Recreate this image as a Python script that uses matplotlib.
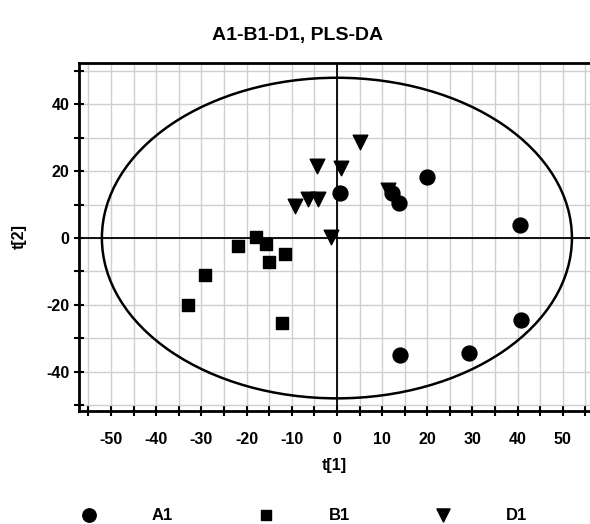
import numpy as np
import matplotlib.pyplot as plt
from matplotlib.patches import Ellipse
from matplotlib.ticker import MultipleLocator

plt.rcParams['font.family'] = ['Liberation Sans', 'DejaVu Sans']
plt.rcParams['axes.unicode_minus'] = False

# scores t[1], t[2] per class
a1_t1 = [0.6, 12.1, 13.8, 19.9, 40.5, 40.8, 14.0, 29.2]
a1_t2 = [13.5, 13.6, 10.5, 18.3, 4.0, -24.5, -35.0, -34.4]
b1_t1 = [-17.8, -15.7, -21.9, -15.1, -11.5, -29.1, -32.9, -12.2]
b1_t2 = [0.4, -1.8, -2.5, -7.1, -4.7, -11.0, -20.0, -25.3]
d1_t1 = [-4.5, 0.8, -9.2, -6.5, -4.2, -1.3, 5.0, 11.4]
d1_t2 = [21.6, 21.0, 9.5, 11.7, 11.7, 0.3, 28.9, 14.5]

# Hotelling T2 ellipse semi-axes
ell_a = 52.0
ell_b = 48.0

fig = plt.figure(figsize=(5.9, 5.24), dpi=100)
ax = fig.add_axes([0.1344, 0.2162, 0.8656, 0.6641])

ax.set_xlim(-57, 56)
ax.set_ylim(-51.7, 52.5)

# grid every 5 units
ax.xaxis.set_minor_locator(MultipleLocator(5))
ax.yaxis.set_minor_locator(MultipleLocator(5))
ax.grid(which='both', color='#cfcfcf', lw=1.0, zorder=0)
ax.set_axisbelow(True)

ax.axhline(0, color='black', lw=1.3, zorder=1)
ax.axvline(0, color='black', lw=1.3, zorder=1)

ax.add_patch(Ellipse((0, 0), 2 * ell_a, 2 * ell_b, fill=False,
                     ec='black', lw=1.8, zorder=2))

ax.scatter(a1_t1, a1_t2, marker='o', s=115, color='black', zorder=3, label='A1')
ax.scatter(b1_t1, b1_t2, marker='s', s=75, color='black', zorder=3, label='B1')
ax.scatter(d1_t1, d1_t2, marker='v', s=110, color='black', zorder=3, label='D1')

# ticks
ax.xaxis.set_major_locator(MultipleLocator(10))
ax.yaxis.set_major_locator(MultipleLocator(20))
ax.set_xticks(np.arange(-55, 56, 5), minor=True)
ax.set_yticks(np.arange(-50, 51, 10), minor=True)
ax.tick_params(which='both', direction='inout', length=7, width=1.5,
               color='black', labelsize=11.5)
ax.tick_params(axis='x', which='both', pad=12)
for lab in ax.get_xticklabels() + ax.get_yticklabels():
    lab.set_fontweight('bold')

for side in ['top', 'left', 'bottom']:
    ax.spines[side].set_linewidth(2.0)
ax.spines['right'].set_visible(False)

ax.set_xlabel('t[1]', fontsize=11.5, fontweight='bold', labelpad=8)
ax.set_ylabel('t[2]', fontsize=11.5, fontweight='bold', labelpad=14)
fig.text(0.505, 0.933, 'A1-B1-D1, PLS-DA', ha='center', va='center',
         fontsize=14, fontweight='bold')

leg = fig.legend(loc='center', bbox_to_anchor=(0.508, 0.017), ncol=3,
                 frameon=False, handletextpad=2.75, columnspacing=4.6,
                 prop={'size': 12, 'weight': 'bold'}, markerscale=0.9)

fig.savefig('out.png', dpi=100)
